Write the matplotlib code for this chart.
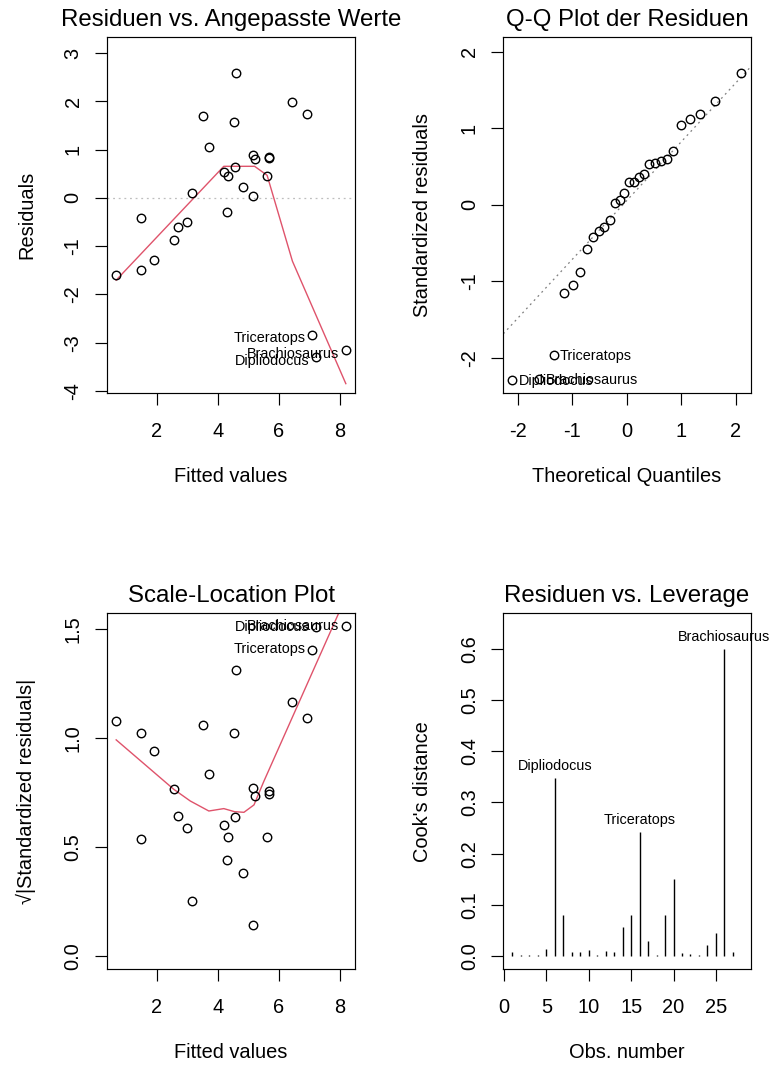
import matplotlib
matplotlib.use('Agg')
import matplotlib.pyplot as plt

plt.rcParams['font.family'] = ['Liberation Sans', 'DejaVu Sans']
plt.rcParams['axes.unicode_minus'] = False

W, H, DPI = 772, 1067, 100
PX = 72.0 / DPI  # points per pixel
RED = '#DF536B'

# ---------------- data ----------------
fitted = [0.663, 1.484, 1.484, 1.911, 2.569, 2.69, 3.00, 3.14, 3.51, 3.69,
          4.19, 4.32, 4.30, 4.60, 4.51, 4.55, 4.83, 5.15, 5.14, 5.20,
          5.67, 5.67, 5.61, 6.44, 6.93, 7.09, 7.20, 8.19]
residuals = [-1.60, -0.414, -1.50, -1.28, -0.863, -0.61, -0.51, 0.10, 1.69, 1.055,
             0.538, 0.447, -0.284, 2.59, 1.57, 0.634, 0.228, 0.034, 0.89, 0.81,
             0.855, 0.828, 0.447, 1.99, 1.74, -2.84, -3.30, -3.155]
sqrt_abs_std = [1.077, 0.537, 1.024, 0.939, 0.767, 0.642, 0.587, 0.252, 1.060, 0.836,
                0.601, 0.544, 0.442, 1.312, 1.022, 0.639, 0.379, 0.142, 0.769, 0.734,
                0.758, 0.743, 0.546, 1.164, 1.092, 1.404, 1.508, 1.511]
point_names = {25: 'Triceratops', 26: 'Dipliodocus', 27: 'Brachiosaurus'}

# lowess smoother vertices
smooth_rv_x = [0.663, 4.19, 5.20, 5.61, 6.44, 8.19]
smooth_rv_y = [-1.705, 0.654, 0.654, 0.468, -1.312, -3.85]
smooth_sl_x = [0.663, 2.546, 3.09, 3.70, 4.19, 4.54, 4.85, 5.18, 5.50, 8.19]
smooth_sl_y = [0.991, 0.765, 0.711, 0.665, 0.676, 0.662, 0.659, 0.693, 0.80, 1.645]

# Q-Q plot
theo_q = [-2.100, -1.611, -1.345, -1.150, -0.992, -0.854, -0.732, -0.619, -0.514, -0.414,
          -0.319, -0.225, -0.135, -0.045, 0.045, 0.135, 0.225, 0.319, 0.414, 0.514,
          0.619, 0.732, 0.854, 0.992, 1.150, 1.345, 1.611, 2.100]
std_sorted = [-2.285, -2.275, -1.96, -1.147, -1.048, -0.878, -0.583, -0.417, -0.339, -0.283,
              -0.192, 0.026, 0.069, 0.151, 0.296, 0.300, 0.365, 0.408, 0.538, 0.551,
              0.573, 0.595, 0.708, 1.047, 1.125, 1.19, 1.35, 1.72]
qq_names = {2: 'Triceratops', 0: 'Dipliodocus', 1: 'Brachiosaurus'}
qq_intercept = 0.058
qq_slope = 0.768

# Cook's distance
obs_number = list(range(1, 29))
cooks = [0.0072, 0.002, 0.002, 0.002, 0.0136, 0.3476, 0.080, 0.0084, 0.0084, 0.0117,
         0.0013, 0.0097, 0.0078, 0.0559, 0.0812, 0.2424, 0.0305, 0.0013, 0.080, 0.1514,
         0.0052, 0.004, 0.003, 0.0208, 0.0455, 0.5985, 0.0078, 0.0001]
cook_names = {5: 'Dipliodocus', 15: 'Triceratops', 25: 'Brachiosaurus'}

# ---------------- layout ----------------
fig = plt.figure(figsize=(W / DPI, H / DPI), dpi=DPI)

TICK_FS = 14.4
TITLE_FS = 17.3
LAB_FS = 10.4


def make_ax(l, r, t, b):
    ax = fig.add_axes([l / W, 1 - b / H, (r - l) / W, (b - t) / H])
    for s in ax.spines.values():
        s.set_linewidth(0.85)
    ax.tick_params(direction='out', length=12 * PX, width=0.85, labelsize=TICK_FS)
    ax.tick_params(axis='x', pad=12.0)
    ax.tick_params(axis='y', pad=9.0, labelrotation=90)
    return ax


def finish(ax, l, r, t, b, title, xlabel, ylabel):
    ax.set_title(title, fontsize=TITLE_FS, pad=11 * PX)
    fig.text(((l + r) / 2) / W, 1 - (b + 89) / H, xlabel, fontsize=TICK_FS,
             ha='center', va='baseline')
    fig.text((l - 75) / W, 1 - ((t + b) / 2) / H, ylabel, fontsize=TICK_FS,
             rotation=90, rotation_mode='anchor', ha='center', va='baseline')
    for lab in ax.get_yticklabels():
        lab.set_va('center')
        lab.set_ha('right')


def circles(ax, x, y):
    ax.plot(x, y, linestyle='none', marker='o', markersize=6.1,
            markerfacecolor='none', markeredgecolor='black', markeredgewidth=1.0,
            clip_on=False, zorder=3)


def label_left(ax, x, y, s, dy=-1.0):
    ax.annotate(s, (x, y), xytext=(-6.5 * PX, dy * PX), textcoords='offset points',
                ha='right', va='center', fontsize=LAB_FS, annotation_clip=False)


def label_right(ax, x, y, s, dy=-1.0):
    ax.annotate(s, (x, y), xytext=(6.5 * PX, dy * PX), textcoords='offset points',
                ha='left', va='center', fontsize=LAB_FS, annotation_clip=False)


# Panel 1: Residuals vs Fitted
L1, R1, T1, B1 = 107, 355, 37, 393
ax1 = make_ax(L1, R1, T1, B1)
ax1.set_xlim(0.362, 8.491)
ax1.set_ylim(-4.044, 3.334)
ax1.axhline(0, color='#BEBEBE', lw=0.9, linestyle=(0, (1.5, 3)), zorder=1)
ax1.plot(smooth_rv_x, smooth_rv_y, color=RED, lw=1.0, zorder=2)
circles(ax1, fitted, residuals)
for i, nm in point_names.items():
    label_left(ax1, fitted[i], residuals[i], nm, dy=-3.5)
ax1.set_xticks([2, 4, 6, 8])
ax1.set_yticks([-4, -3, -2, -1, 0, 1, 2, 3])
finish(ax1, L1, R1, T1, B1, 'Residuen vs. Angepasste Werte', 'Fitted values', 'Residuals')

# Panel 2: Q-Q
L2, R2, T2, B2 = 503.3, 750.5, 37, 393
ax2 = make_ax(L2, R2, T2, B2)
ax2.set_xlim(-2.268, 2.268)
ax2.set_ylim(-2.457, 2.192)
ax2.axline((0, qq_intercept), slope=qq_slope, color='#7F7F7F', lw=0.9,
           linestyle=(0, (1.5, 3)), zorder=1)
circles(ax2, theo_q, std_sorted)
for i, nm in qq_names.items():
    label_right(ax2, theo_q[i], std_sorted[i], nm)
ax2.set_xticks([-2, -1, 0, 1, 2])
ax2.set_yticks([-2, -1, 0, 1, 2])
finish(ax2, L2, R2, T2, B2, 'Q-Q Plot der Residuen', 'Theoretical Quantiles',
       'Standardized residuals')

# Panel 3: Scale-Location
L3, R3, T3, B3 = 107, 355, 613.3, 969.3
ax3 = make_ax(L3, R3, T3, B3)
ax3.set_xlim(0.362, 8.491)
ax3.set_ylim(-0.0604, 1.571)
ax3.plot(smooth_sl_x, smooth_sl_y, color=RED, lw=1.0, zorder=2)
circles(ax3, fitted, sqrt_abs_std)
for i, nm in point_names.items():
    label_left(ax3, fitted[i], sqrt_abs_std[i], nm, dy=0.5)
ax3.set_xticks([2, 4, 6, 8])
ax3.set_yticks([0.0, 0.5, 1.0, 1.5])
ax3.set_yticklabels(['0.0', '0.5', '1.0', '1.5'])
finish(ax3, L3, R3, T3, B3, 'Scale-Location Plot', 'Fitted values',
       '\u221a|Standardized residuals|')

# Panel 4: Cook's distance
L4, R4, T4, B4 = 503.3, 750.5, 613.3, 969.3
ax4 = make_ax(L4, R4, T4, B4)
ax4.set_xlim(-0.08, 29.08)
ax4.set_ylim(-0.0257, 0.669)
ax4.vlines(obs_number, 0, cooks, color='black', lw=1.0)
for i, nm in cook_names.items():
    ax4.annotate(nm, (obs_number[i], cooks[i]), xytext=(0, 12 * PX),
                 textcoords='offset points', ha='center', va='center',
                 fontsize=LAB_FS, annotation_clip=False)
ax4.set_xticks([0, 5, 10, 15, 20, 25])
ax4.set_yticks([0.0, 0.1, 0.2, 0.3, 0.4, 0.5, 0.6])
ax4.set_yticklabels(['0.0', '0.1', '0.2', '0.3', '0.4', '0.5', '0.6'])
finish(ax4, L4, R4, T4, B4, 'Residuen vs. Leverage', 'Obs. number', "Cook's distance")

fig.savefig('out.png', dpi=DPI)
